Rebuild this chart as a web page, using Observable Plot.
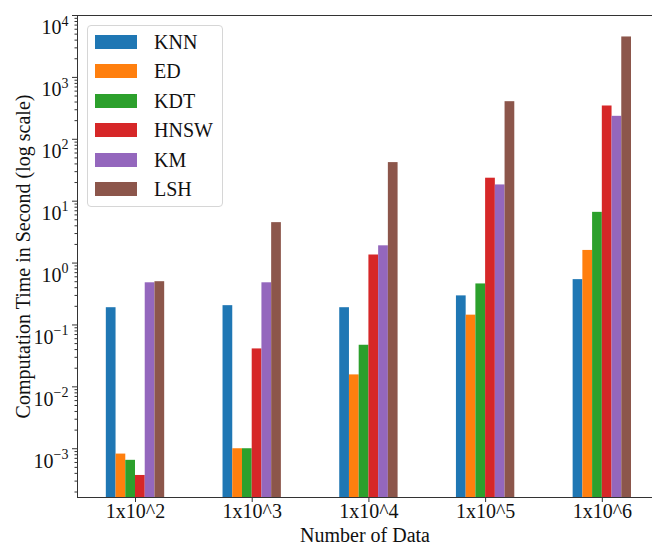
<!DOCTYPE html>
<html>
<head>
<meta charset="utf-8">
<script src="https://cdn.jsdelivr.net/npm/d3@7"></script>
<script src="https://cdn.jsdelivr.net/npm/@observablehq/plot@0.6"></script>
<style>
  html, body { margin: 0; padding: 0; background: white; }
  #wrap { position: relative; width: 652px; height: 544px; font-family: "Liberation Serif", "Times New Roman", serif; }
  #legend { position: absolute; left: 87px; top: 25px; width: 136px; height: 182px;
    border: 1px solid #d6d6d6; border-radius: 4px; background: rgba(255,255,255,0.85); box-sizing: border-box; }
  .sw { position: absolute; left: 7px; width: 42px; height: 14px; }
  .lb { position: absolute; left: 66px; font-size: 20px; line-height: 20px; color: #111; white-space: nowrap; }
</style>
</head>
<body>
<div id="wrap"><div id="legend"></div></div>
<script>
const groups = ["1x10^2", "1x10^3", "1x10^4", "1x10^5", "1x10^6"];
const methods = ["KNN", "ED", "KDT", "HNSW", "KM", "LSH"];
const colors = ["#1f77b4", "#ff7f0e", "#2ca02c", "#d62728", "#9467bd", "#8c564b"];
const knn  = [0.19, 0.205, 0.19, 0.295, 0.54];
const ed   = [0.00082, 0.001, 0.0156, 0.144, 1.6];
const kdt  = [0.00065, 0.001, 0.047, 0.46, 6.6];
const hnsw = [0.00037, 0.041, 1.35, 23.5, 345];
const km   = [0.48, 0.48, 1.9, 18.3, 235];
const lsh  = [0.5, 4.5, 42, 405, 4500];
const series = [knn, ed, kdt, hnsw, km, lsh];
const yMajor = [1e-3, 1e-2, 1e-1, 1, 10, 100, 1000, 10000];

const barW = 1 / 12;
const data = [];
series.forEach((vals, mi) => vals.forEach((v, gi) => {
  const x1 = gi + (mi - 3) * barW;
  data.push({group: groups[gi], method: methods[mi], value: v, x1, x2: x1 + barW});
}));
const yMin = 1.63e-4, yMax = 1e4;
const yMinor = [];
for (let k = -4; k < 4; k++) for (let m = 2; m <= 9; m++) {
  const v = m * Math.pow(10, k);
  if (v >= yMin && v <= yMax) yMinor.push(v);
}

const chart = Plot.plot({
  width: 652, height: 544,
  marginLeft: 77, marginRight: 0, marginTop: 15, marginBottom: 47,
  style: {fontFamily: "Liberation Serif, Times New Roman, serif", fontSize: "20px", color: "#111", background: "white", overflow: "visible"},
  x: {type: "linear", domain: [-0.497, 4.43]},
  y: {type: "log", domain: [yMin, yMax]},
  color: {domain: methods, range: colors},
  marks: [
    Plot.rectY(data, {x1: "x1", x2: "x2", y1: yMin, y2: "value", fill: "method"}),
    Plot.ruleY([yMax, yMin], {stroke: "#333", strokeWidth: 1}),
    Plot.ruleX([-0.497], {stroke: "#333", strokeWidth: 1}),
    Plot.axisY(yMinor, {tickSize: 2.5, text: null, label: null, stroke: "#333"}),
    Plot.axisY(yMajor, {tickSize: 5, tickPadding: 4, tickFormat: d => String(Math.round(Math.log10(d))),
      label: "Computation Time in Second (log scale)", labelAnchor: "center", labelArrow: "none", labelOffset: 62, fontSize: 20, stroke: "#333"}),
    Plot.axisX([0, 1, 2, 3, 4], {tickSize: 5, tickPadding: 1, tickFormat: i => groups[i],
      label: "Number of Data", labelAnchor: "center", labelArrow: "none", labelOffset: 44, fontSize: 20, stroke: "#333"})
  ]
});
document.getElementById("wrap").prepend(chart);

// superscript exponents on y tick labels
d3.select(chart).selectAll('g[aria-label="y-axis tick label"] text').each(function() {
  const t = d3.select(this);
  const raw = t.text().trim();
  if (!/^-?\d+$/.test(raw)) { t.remove(); return; }
  const e = raw.replace("-", "\u2212");
  t.text("");
  t.attr("dy", "0.62em");
  t.append("tspan").text("10");
  t.append("tspan").attr("dy", "-0.62em").attr("font-size", "14px").text(e);
});
// strip any label arrows
d3.select(chart).selectAll('g[aria-label$="-axis label"] text').each(function() {
  const t = d3.select(this);
  t.text(t.text().replace(/\s*[\u2190-\u2193]\s*/g, ""));
});

// legend
const lg = document.getElementById("legend");
methods.forEach((m, i) => {
  const cy = 16 + i * 29.4;
  const sw = document.createElement("div");
  sw.className = "sw"; sw.style.background = colors[i]; sw.style.top = (cy - 7) + "px";
  const lb = document.createElement("div");
  lb.className = "lb"; lb.textContent = m; lb.style.top = (cy - 10) + "px";
  lg.appendChild(sw); lg.appendChild(lb);
});
</script>
</body>
</html>
